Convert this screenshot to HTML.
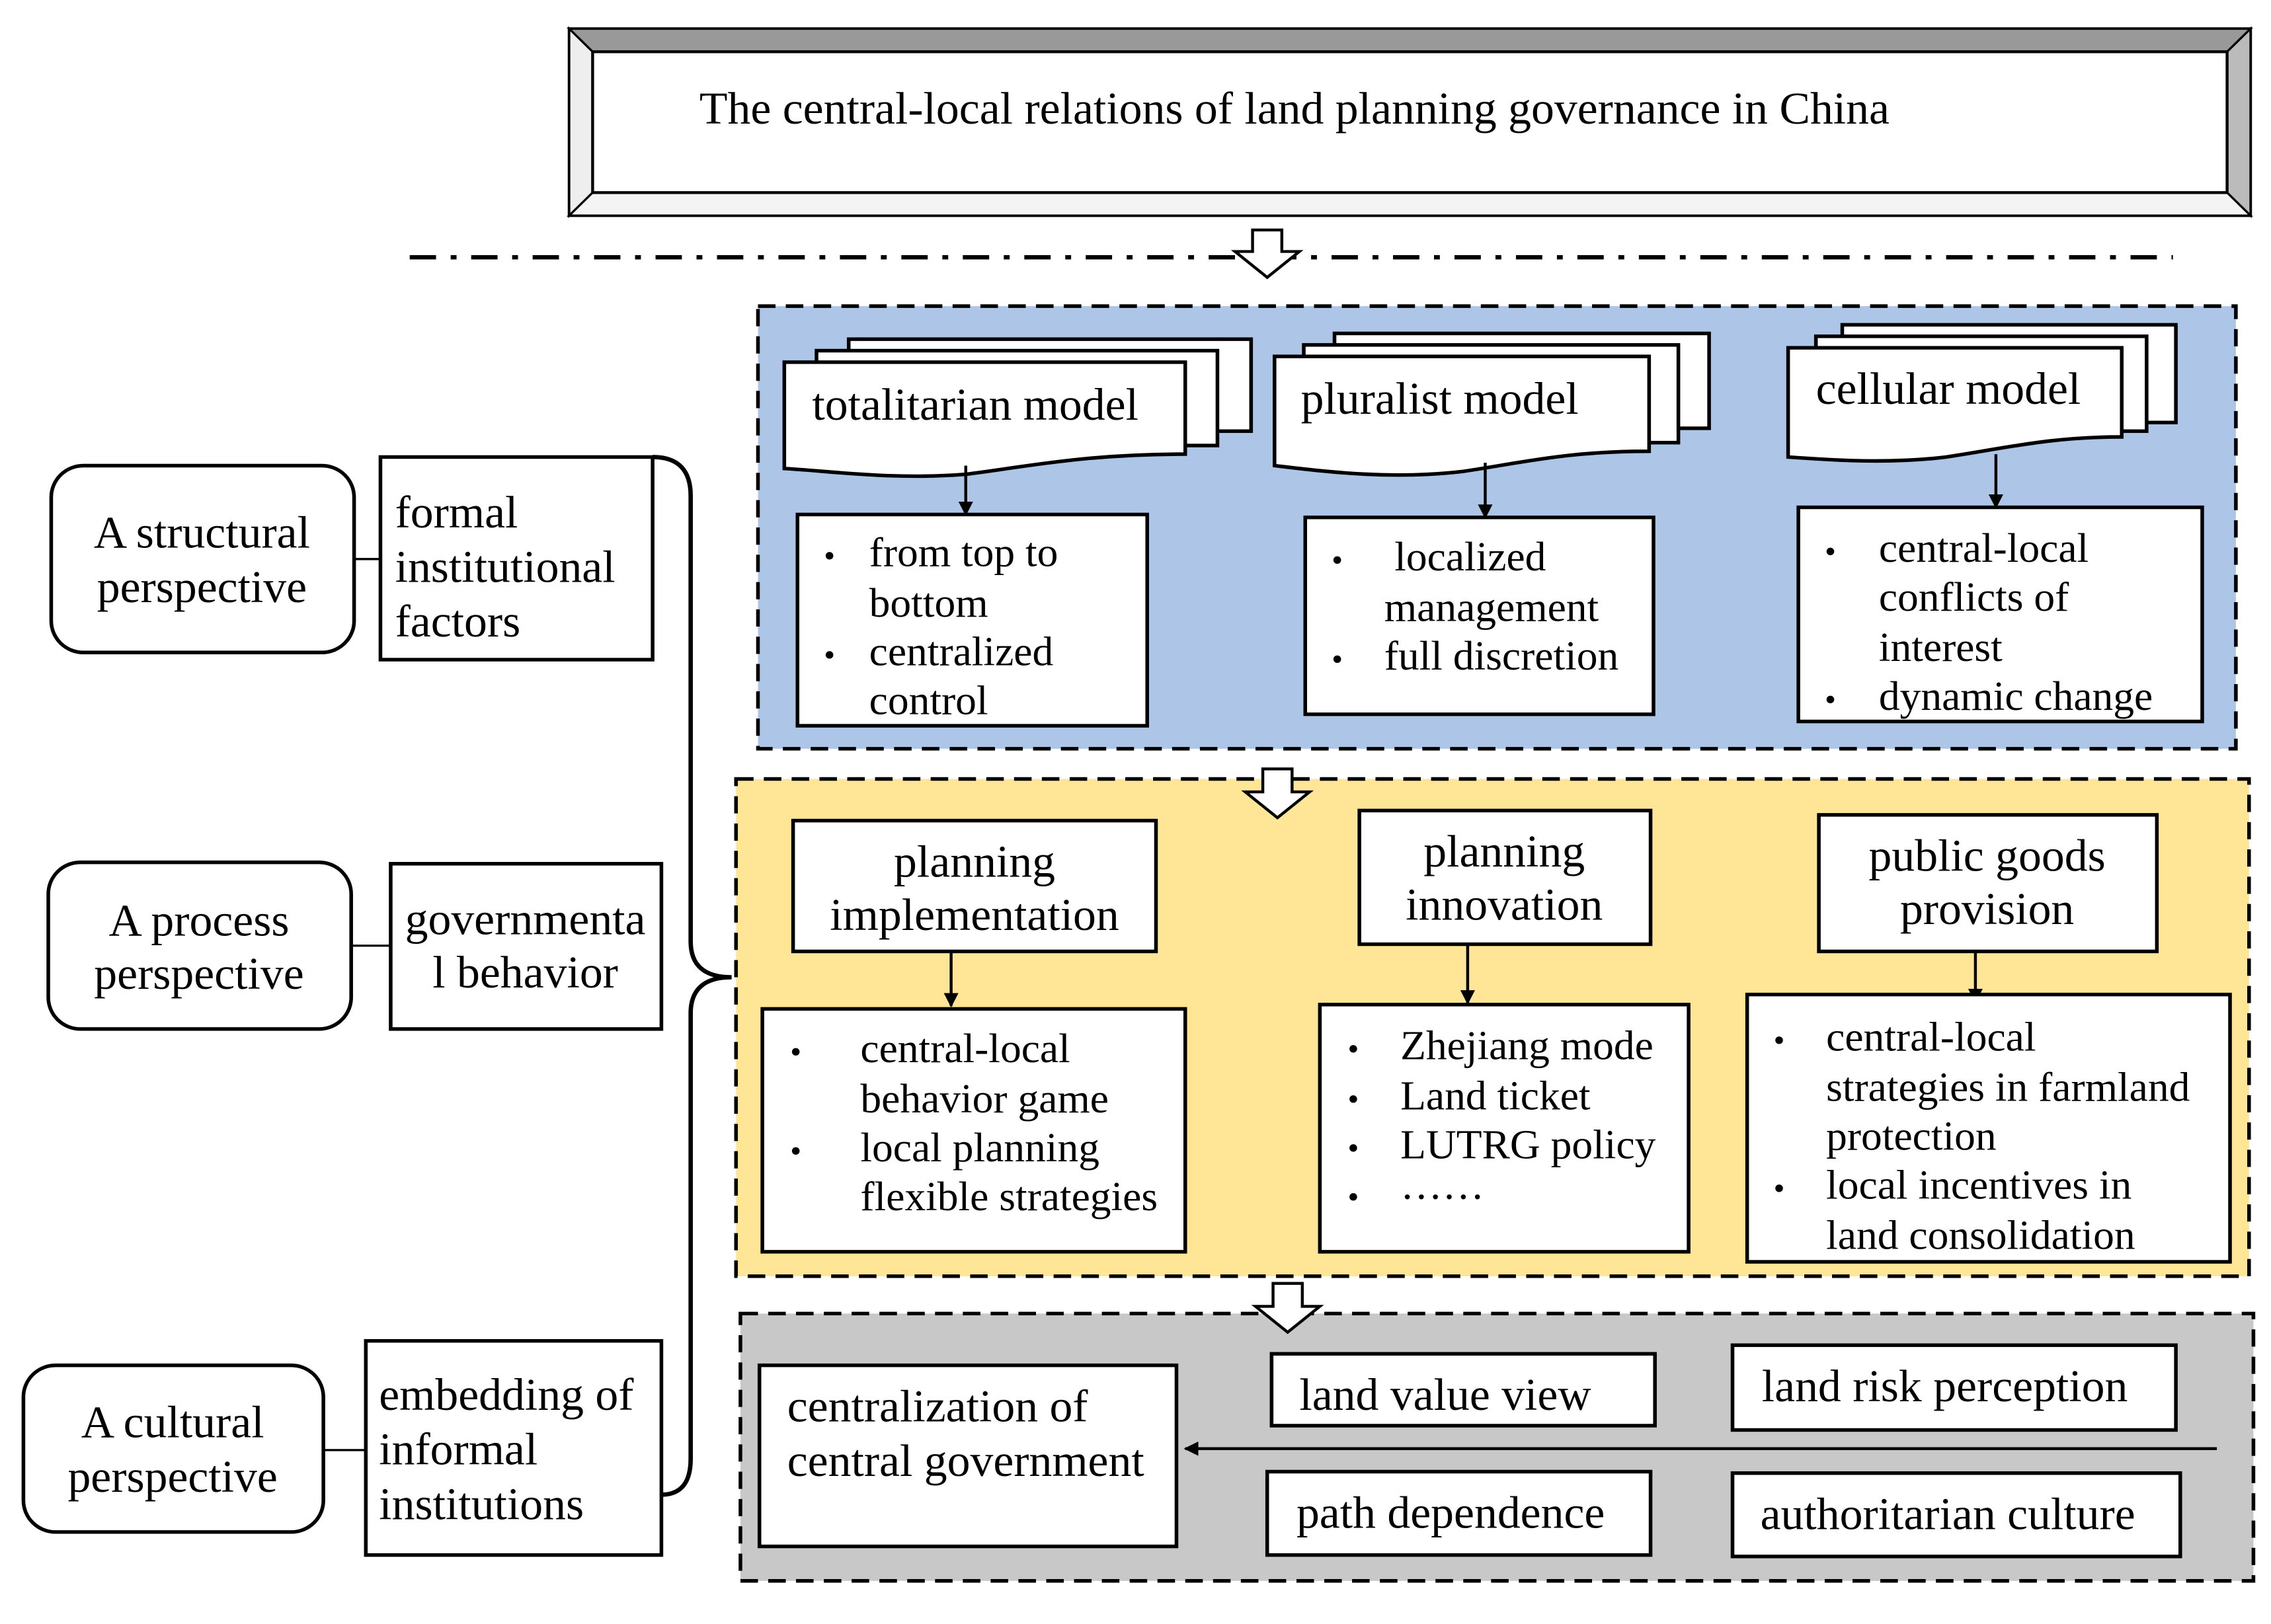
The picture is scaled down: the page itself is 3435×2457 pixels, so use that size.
<!DOCTYPE html>
<html><head><meta charset="utf-8"><style>
html,body{margin:0;padding:0;background:#fff;}
svg{display:block;}
text{font-family:"Liberation Serif",serif;font-size:31.5px;fill:#000;}
text.b{font-size:28.7px;}
text.d{font-size:22px;}
</style></head><body>
<svg width="3435" height="2457" viewBox="0 0 1552 1130" preserveAspectRatio="none" xmlns="http://www.w3.org/2000/svg">
<defs>
<marker id="ah" markerWidth="10" markerHeight="10" refX="9" refY="5" orient="auto" markerUnits="userSpaceOnUse"><path d="M0,0 L10,5 L0,10 z" fill="#000"/></marker>
</defs>
<!-- title frame -->
<rect x="389" y="20" width="1149" height="130" fill="#fff" stroke="#000" stroke-width="2"/>
<polygon points="389,20 1538,20 1522,36 405,36" fill="#999" stroke="#000" stroke-width="1.5"/>
<polygon points="1538,20 1538,150 1522,134 1522,36" fill="#bbb" stroke="#000" stroke-width="1.5"/>
<polygon points="389,20 405,36 405,134 389,150" fill="#eee" stroke="#000" stroke-width="1.5"/>
<polygon points="389,150 405,134 1522,134 1538,150" fill="#f4f4f4" stroke="#000" stroke-width="1.5"/>
<rect x="405" y="36" width="1117" height="98" fill="#fff" stroke="#000" stroke-width="2"/>
<text x="478" y="86" style="font-size:31.5px">The  central-local relations of land planning governance in China</text>
<!-- dash dot -->
<line x1="280" y1="179" x2="1485" y2="179" stroke="#000" stroke-width="3" stroke-dasharray="18,10,4,10"/>
<path d="M856,160 H876 V175 H888 L866,193 L844,175 H856 Z" fill="#fff" stroke="#000" stroke-width="2"/>

<!-- blue panel -->
<rect x="518" y="213" width="1010" height="308" fill="#adc6e7" stroke="#000" stroke-width="2.5" stroke-dasharray="12,7"/>
<g fill="#fff" stroke="#000" stroke-width="2.5">
<rect x="580" y="236" width="275" height="64"/>
<rect x="558" y="244" width="274" height="66"/>
<path d="M536,252 H810 V316 C740,316 700,325 660,330 C610,334 570,328 536,326 Z"/>
</g>
<text x="555" y="292">totalitarian model</text>
<line x1="660" y1="324" x2="660" y2="358" stroke="#000" stroke-width="2" marker-end="url(#ah)"/>
<rect x="545" y="358" width="239" height="147" fill="#fff" stroke="#000" stroke-width="2.5"/>
<text x="563" y="394" class="d">•</text><text class="b" x="594" y="394">from top to</text>
<text class="b" x="594" y="429">bottom</text>
<text x="563" y="463" class="d">•</text><text class="b" x="594" y="463">centralized</text>
<text class="b" x="594" y="497">control</text>
<g fill="#fff" stroke="#000" stroke-width="2.5">
<rect x="912" y="232" width="256" height="66"/>
<rect x="891" y="240" width="256" height="68"/>
<path d="M871,248 H1127 V314 C1070,314 1040,322 1000,328 C950,334 905,328 871,324 Z"/>
</g>
<text x="889" y="288">pluralist model</text>
<line x1="1015" y1="322" x2="1015" y2="360" stroke="#000" stroke-width="2" marker-end="url(#ah)"/>
<rect x="892" y="360" width="238" height="137" fill="#fff" stroke="#000" stroke-width="2.5"/>
<text x="910" y="397" class="d">•</text><text class="b" x="953" y="397">localized</text>
<text class="b" x="946" y="432">management</text>
<text x="910" y="466" class="d">•</text><text class="b" x="946" y="466">full discretion</text>
<g fill="#fff" stroke="#000" stroke-width="2.5">
<rect x="1259" y="226" width="228" height="68"/>
<rect x="1241" y="234" width="226" height="66"/>
<path d="M1222,242 H1450 V304 C1400,304 1370,312 1330,318 C1290,323 1250,320 1222,318 Z"/>
</g>
<text x="1241" y="281">cellular model</text>
<line x1="1364" y1="316" x2="1364" y2="353" stroke="#000" stroke-width="2" marker-end="url(#ah)"/>
<rect x="1229" y="353" width="276" height="149" fill="#fff" stroke="#000" stroke-width="2.5"/>
<text x="1247" y="391" class="d">•</text><text class="b" x="1284" y="391">central-local</text>
<text class="b" x="1284" y="425">conflicts of</text>
<text class="b" x="1284" y="460">interest</text>
<text x="1247" y="494" class="d">•</text><text class="b" x="1284" y="494">dynamic change</text>

<!-- yellow panel -->
<rect x="503" y="542" width="1034" height="346" fill="#ffe596" stroke="#000" stroke-width="2.5" stroke-dasharray="12,7"/>
<path d="M863,535 H883 V551 H895 L873,569 L851,551 H863 Z" fill="#fff" stroke="#000" stroke-width="2"/>
<rect x="542" y="571" width="248" height="91" fill="#fff" stroke="#000" stroke-width="2.5"/>
<text x="666" y="610" text-anchor="middle">planning</text>
<text x="666" y="647" text-anchor="middle">implementation</text>
<line x1="650" y1="662" x2="650" y2="700" stroke="#000" stroke-width="2" marker-end="url(#ah)"/>
<rect x="521" y="702" width="289" height="169" fill="#fff" stroke="#000" stroke-width="2.5"/>
<text x="540" y="739" class="d">•</text><text class="b" x="588" y="739">central-local</text>
<text class="b" x="588" y="774">behavior game</text>
<text x="540" y="808" class="d">•</text><text class="b" x="588" y="808">local planning</text>
<text class="b" x="588" y="842">flexible strategies</text>

<rect x="929" y="564" width="199" height="93" fill="#fff" stroke="#000" stroke-width="2.5"/>
<text x="1028" y="603" text-anchor="middle">planning</text>
<text x="1028" y="640" text-anchor="middle">innovation</text>
<line x1="1003" y1="657" x2="1003" y2="698" stroke="#000" stroke-width="2" marker-end="url(#ah)"/>
<rect x="902" y="699" width="252" height="172" fill="#fff" stroke="#000" stroke-width="2.5"/>
<text x="921" y="737" class="d">•</text><text class="b" x="957" y="737">Zhejiang mode</text>
<text x="921" y="772" class="d">•</text><text class="b" x="957" y="772">Land ticket</text>
<text x="921" y="806" class="d">•</text><text class="b" x="957" y="806">LUTRG policy</text>
<text x="921" y="840" class="d">•</text><text class="b" x="957" y="834">……</text>

<rect x="1243" y="567" width="231" height="95" fill="#fff" stroke="#000" stroke-width="2.5"/>
<text x="1358" y="606" text-anchor="middle">public goods</text>
<text x="1358" y="643" text-anchor="middle">provision</text>
<line x1="1350" y1="662" x2="1350" y2="697" stroke="#000" stroke-width="2" marker-end="url(#ah)"/>
<rect x="1194" y="692" width="330" height="186" fill="#fff" stroke="#000" stroke-width="2.5"/>
<text x="1212" y="731" class="d">•</text><text class="b" x="1248" y="731">central-local</text>
<text class="b" x="1248" y="766">strategies in farmland</text>
<text class="b" x="1248" y="800">protection</text>
<text x="1212" y="834" class="d">•</text><text class="b" x="1248" y="834">local incentives in</text>
<text class="b" x="1248" y="869">land consolidation</text>

<!-- gray panel -->
<rect x="506" y="914" width="1034" height="186" fill="#c8c8c8" stroke="#000" stroke-width="2.5" stroke-dasharray="12,7"/>
<path d="M870,893 H890 V909 H902 L880,927 L858,909 H870 Z" fill="#fff" stroke="#000" stroke-width="2"/>
<rect x="519" y="950" width="285" height="126" fill="#fff" stroke="#000" stroke-width="2.5"/>
<text x="538" y="989">centralization of</text>
<text x="538" y="1027">central government</text>
<rect x="869" y="942" width="262" height="50" fill="#fff" stroke="#000" stroke-width="2.5"/>
<text x="888" y="981">land value view</text>
<rect x="1184" y="936" width="303" height="59" fill="#fff" stroke="#000" stroke-width="2.5"/>
<text x="1204" y="975">land risk perception</text>
<rect x="866" y="1024" width="262" height="58" fill="#fff" stroke="#000" stroke-width="2.5"/>
<text x="886" y="1063">path dependence</text>
<rect x="1184" y="1025" width="306" height="58" fill="#fff" stroke="#000" stroke-width="2.5"/>
<text x="1203" y="1064">authoritarian culture</text>
<line x1="1515" y1="1008" x2="810" y2="1008" stroke="#000" stroke-width="2" marker-end="url(#ah)"/>

<!-- left side -->
<rect x="35" y="324" width="207" height="130" rx="22" fill="#fff" stroke="#000" stroke-width="2.5"/>
<text x="138" y="381" text-anchor="middle">A structural</text>
<text x="138" y="419" text-anchor="middle">perspective</text>
<line x1="242" y1="389" x2="260" y2="389" stroke="#000" stroke-width="1.5"/>
<rect x="260" y="318" width="186" height="141" fill="#fff" stroke="#000" stroke-width="2.5"/>
<text x="270" y="367">formal</text>
<text x="270" y="405">institutional</text>
<text x="270" y="443">factors</text>

<rect x="33" y="600" width="207" height="116" rx="22" fill="#fff" stroke="#000" stroke-width="2.5"/>
<text x="136" y="651" text-anchor="middle">A process</text>
<text x="136" y="688" text-anchor="middle">perspective</text>
<line x1="240" y1="658" x2="267" y2="658" stroke="#000" stroke-width="1.5"/>
<rect x="267" y="601" width="185" height="115" fill="#fff" stroke="#000" stroke-width="2.5"/>
<text x="359" y="650" text-anchor="middle">governmenta</text>
<text x="359" y="687" text-anchor="middle">l behavior</text>

<rect x="16" y="950" width="205" height="116" rx="22" fill="#fff" stroke="#000" stroke-width="2.5"/>
<text x="118" y="1000" text-anchor="middle">A cultural</text>
<text x="118" y="1038" text-anchor="middle">perspective</text>
<line x1="221" y1="1009" x2="250" y2="1009" stroke="#000" stroke-width="1.5"/>
<rect x="250" y="933" width="202" height="149" fill="#fff" stroke="#000" stroke-width="2.5"/>
<text x="259" y="981">embedding of</text>
<text x="259" y="1019">informal</text>
<text x="259" y="1057">institutions</text>

<path d="M446,318 Q472,318 472,345 V655 Q472,680 500,680 Q472,680 472,705 V1015 Q472,1040 452,1040" fill="none" stroke="#000" stroke-width="3"/>
</svg>
</body></html>
